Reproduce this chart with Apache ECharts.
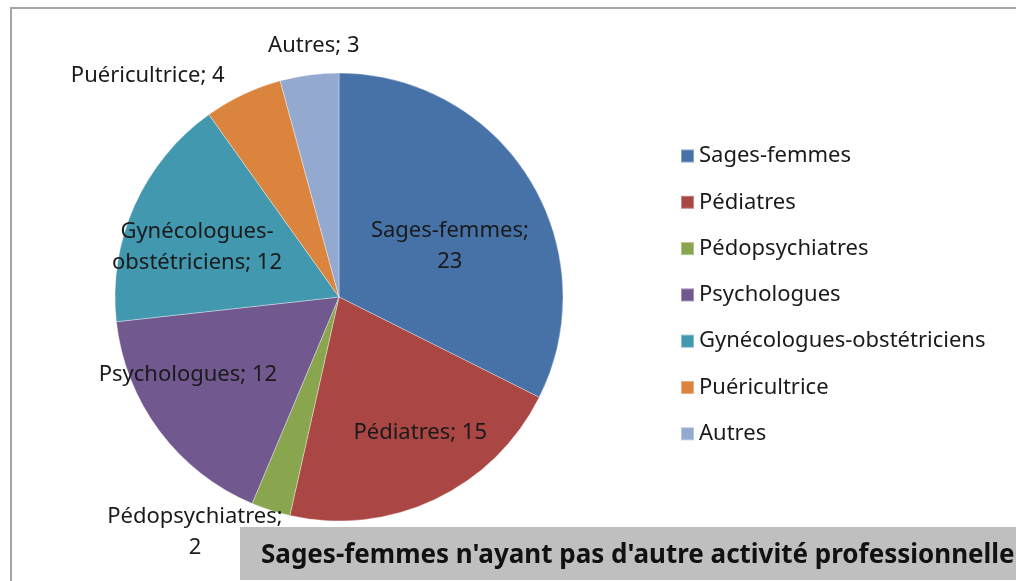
<!DOCTYPE html>
<html>
<head>
<meta charset="utf-8">
<script src="https://cdn.jsdelivr.net/npm/echarts@6/dist/echarts.min.js"></script>
<style>
  html, body { margin: 0; padding: 0; background: #fff; }
  #chart { width: 1016px; height: 581px; }
</style>
</head>
<body>
<div id="chart"></div>
<script>
const categories = ['Sages-femmes', 'Pédiatres', 'Pédopsychiatres', 'Psychologues', 'Gynécologues-obstétriciens', 'Puéricultrice', 'Autres'];
const counts = [23, 15, 2, 12, 12, 4, 3];
const titleText = "Sages-femmes n'ayant pas d'autre activité professionnelle";

const colors = ['#4672a8', '#aa4643', '#89a54e', '#71588f', '#4198af', '#db843d', '#93a9cf'];
// nudges for the data labels, relative to the default inside spot
const labelOffsets = [[13, 10], [32, 32], [-109, 126], [-59, 9], [-37, -3], [-142, -117], [-10, -137]];

function labelText(name, value) {
    if (name === 'Gynécologues-obstétriciens') return 'Gynécologues-\nobstétriciens; ' + value
    if (name === 'Sages-femmes' || name === 'Pédopsychiatres') return name + ';\n' + value
    return name + '; ' + value
}

const font = '"Noto Sans", "Open Sans", sans-serif'
const myChart = echarts.init(document.getElementById('chart'));
myChart.setOption({
    animation: false,
    color: colors,
    textStyle: { fontFamily: font },
    title: {
        text: titleText,
        left: 240,
        top: 527,
        backgroundColor: '#bfbfbf',
        padding: [11, 80, 7, 21],
        textStyle: {
            fontFamily: font,
            fontWeight: 'bold',
            fontSize: 26,
            lineHeight: 35,
            color: '#111'
        }
    },
    legend: {
        orient: 'vertical',
        left: 680,
        top: 145,
        padding: 0,
        icon: 'rect',
        itemWidth: 13,
        itemHeight: 13,
        itemGap: 24.3,
        textStyle: { fontFamily: font, fontSize: 22, lineHeight: 22, color: '#1a1a1a' },
        data: categories
    },
    graphic: [{
        type: 'rect',
        shape: { x: 11, y: 8, width: 1100, height: 700 },
        style: { fill: 'none', stroke: '#a6a6a6', lineWidth: 2 },
        silent: true
    }],
    series: [{
        type: 'pie',
        center: [339, 297],
        radius: 224,
        startAngle: 90,
        clockwise: true,
        avoidLabelOverlap: false,
        itemStyle: { borderColor: 'rgba(255,255,255,0.35)', borderWidth: 1 },
        label: {
            position: 'inside',
            color: '#1a1a1a',
            fontFamily: font,
            fontSize: 22,
            lineHeight: 31,
            formatter: p => labelText(p.name, p.value)
        },
        labelLine: { show: false },
        data: categories.map((name, i) => ({
            name: name,
            value: counts[i],
            label: { offset: labelOffsets[i] }
        }))
    }]
})
</script>
</body>
</html>
